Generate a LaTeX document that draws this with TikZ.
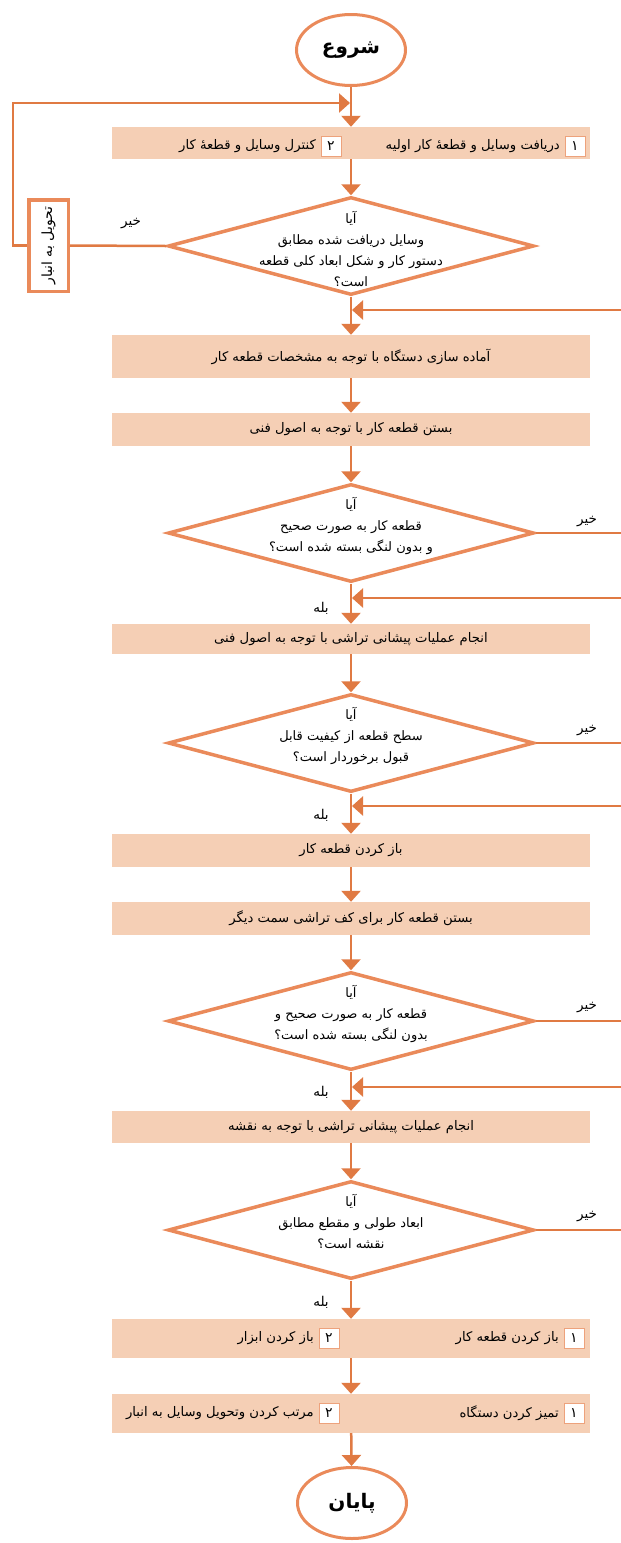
\documentclass[tikz,border=0pt]{standalone}
\usepackage{fontspec}
\usetikzlibrary{shapes.geometric,arrows.meta}
\TeXXeTstate=1
\newfontfamily\arabicfont[Script=Arabic]{DejaVu Sans}
\newcommand\fa[1]{{\arabicfont\beginR #1\endR}}
\definecolor{ln}{HTML}{E07A43}
\definecolor{sh}{HTML}{EA8A5A}
\definecolor{bx}{HTML}{F5CFB5}
\definecolor{nb}{HTML}{EDA27C}
\begin{document}
\begin{tikzpicture}[x=1pt,y=-1pt,
 conn/.style={draw=ln, line width=2.5pt},
 arr/.style={conn, -{Triangle[width=19pt,length=11pt]}},
 term/.style={ellipse, draw=sh, line width=3pt, minimum width=109pt, minimum height=71pt, inner sep=0pt, font=\fontsize{20}{24}\selectfont\bfseries},
 stepbox/.style={fill=bx, minimum width=478pt, inner sep=0pt, font=\fontsize{13.2}{16}\selectfont},
 dec/.style={diamond, draw=sh, line width=3.5pt, minimum width=366pt, minimum height=98pt, inner sep=0pt},
 dectext/.style={align=center, font=\fontsize{13}{21}\selectfont, inner sep=0pt},
 numbox/.style={draw=nb, line width=1pt, fill=white, minimum size=20pt, inner sep=0pt, font=\fontsize{14}{15}\selectfont},
 lbl/.style={font=\fontsize{13.5}{15}\selectfont, inner sep=0pt},
 rtext/.style={anchor=east, inner sep=0pt, font=\fontsize{13.2}{16}\selectfont},
]
\useasboundingbox (0,0) rectangle (621,1543);

% start
\node[term] (start) at (351,50) {\fa{شروع}};

% box 1
\node[stepbox, minimum height=32pt] (b1) at (351,143) {};
\node[numbox] (n11) at (575,146) {\fa{۱}};
\node[rtext] (t11) at (560,146) {\fa{دریافت وسایل و قطعهٔ کار اولیه}};
\node[numbox] (n12) at (331,146) {\fa{۲}};
\node[rtext] (t12) at (316,146) {\fa{کنترل وسایل و قطعهٔ کار}};

% decision 1
\node[dec] (d1) at (351,246) {};
\node[dectext] (d1t) at (351,249) {\fa{آیا}\\\fa{وسایل دریافت شده مطابق}\\\fa{دستور کار و شکل ابعاد کلی قطعه}\\\fa{است؟}};

% tahvil
\node[draw=sh, line width=3.5pt, fill=white, minimum width=39.5pt, minimum height=91.5pt, inner sep=0pt] (tahvil) at (48.5,245.5) {};
\node[rotate=90, inner sep=0pt, font=\fontsize{14}{16}\selectfont] (tahvilt) at (tahvil) {\fa{تحویل به انبار}};
\node[lbl] (no1) at (131,224) {\fa{خیر}};

% boxes
\node[stepbox, minimum height=43pt] (b2) at (351,356.5) {\fa{آماده سازی دستگاه با توجه به مشخصات قطعه کار}};
\node[stepbox, minimum height=33pt] (b3) at (351,429.5) {\fa{بستن قطعه کار با توجه به اصول فنی}};

\node[dec] (d2) at (351,533) {};
\node[dectext] (d2t) at (351,526) {\fa{آیا}\\\fa{قطعه کار به صورت صحیح}\\\fa{و بدون لنگی بسته شده است؟}};
\node[lbl] (no2) at (587,522) {\fa{خیر}};
\node[lbl] (yes2) at (321,608) {\fa{بله}};

\node[stepbox, minimum height=30pt] (b4) at (351,639) {\fa{انجام عملیات پیشانی تراشی با توجه به اصول فنی}};

\node[dec] (d3) at (351,743) {};
\node[dectext] (d3t) at (351,736) {\fa{آیا}\\\fa{سطح قطعه از کیفیت قابل}\\\fa{قبول برخوردار است؟}};
\node[lbl] (no3) at (587,731) {\fa{خیر}};
\node[lbl] (yes3) at (321,815) {\fa{بله}};

\node[stepbox, minimum height=33pt] (b5) at (351,850.5) {\fa{باز کردن قطعه کار}};
\node[stepbox, minimum height=33pt] (b6) at (351,918.5) {\fa{بستن قطعه کار برای کف تراشی سمت دیگر}};

\node[dec] (d4) at (351,1021) {};
\node[dectext] (d4t) at (351,1014) {\fa{آیا}\\\fa{قطعه کار به صورت صحیح و}\\\fa{بدون لنگی بسته شده است؟}};
\node[lbl] (no4) at (587,1008) {\fa{خیر}};
\node[lbl] (yes4) at (321,1092) {\fa{بله}};

\node[stepbox, minimum height=32pt] (b7) at (351,1127) {\fa{انجام عملیات پیشانی تراشی با توجه به نقشه}};

\node[dec] (d5) at (351,1230) {};
\node[dectext] (d5t) at (351,1221) {\fa{آیا}\\\fa{ابعاد طولی و مقطع مطابق}\\\fa{نقشه است؟}};
\node[lbl] (no5) at (587,1217) {\fa{خیر}};
\node[lbl] (yes5) at (321,1302) {\fa{بله}};

% box 8
\node[stepbox, minimum height=39pt] (b8) at (351,1338.5) {};
\node[numbox] (n81) at (574,1338.5) {\fa{۱}};
\node[rtext] (t81) at (559,1338.5) {\fa{باز کردن قطعه کار}};
\node[numbox] (n82) at (329,1338.5) {\fa{۲}};
\node[rtext] (t82) at (314,1338.5) {\fa{باز کردن ابزار}};

% box 9
\node[stepbox, minimum height=39pt] (b9) at (351,1413.5) {};
\node[numbox] (n91) at (574,1413.5) {\fa{۱}};
\node[rtext] (t91) at (559,1413.5) {\fa{تمیز کردن دستگاه}};
\node[numbox] (n92) at (329,1413.5) {\fa{۲}};
\node[rtext] (t92) at (314,1413.5) {\fa{مرتب کردن وتحویل وسایل به انبار}};

\node[term] (end) at (352,1503) {\fa{پایان}};

% coordinates
\coordinate (j1) at (350,103);
\coordinate (cl) at (13,103);
\coordinate (r1) at (621,310);  \coordinate (r1e) at (352,310);
\coordinate (r2) at (621,598);  \coordinate (r2e) at (352,598);
\coordinate (r3) at (621,806);  \coordinate (r3e) at (352,806);
\coordinate (r4) at (621,1087); \coordinate (r4e) at (352,1087);
\coordinate (e2) at (621,533);
\coordinate (e3) at (621,743);
\coordinate (e4) at (621,1021);
\coordinate (e5) at (621,1230);

% connectors
\draw[arr] (start) -- (b1);
\draw[arr] (b1) -- (d1);
\draw[conn] (d1.west) -- (tahvil.east);
\draw[arr] (tahvil.west) -| (cl) -- (j1);
\draw[arr] (d1) -- (b2);
\draw[arr] (b2) -- (b3);
\draw[arr] (b3) -- (d2);
\draw[arr] (d2) -- (b4);
\draw[arr] (b4) -- (d3);
\draw[arr] (d3) -- (b5);
\draw[arr] (b5) -- (b6);
\draw[arr] (b6) -- (d4);
\draw[arr] (d4) -- (b7);
\draw[arr] (b7) -- (d5);
\draw[arr] (d5) -- (b8);
\draw[arr] (b8) -- (b9);
\draw[arr] (b9) -- (end);
\draw[arr] (r1) -- (r1e);
\draw[arr] (r2) -- (r2e);
\draw[arr] (r3) -- (r3e);
\draw[arr] (r4) -- (r4e);
\draw[conn] (d2.east) -- (e2);
\draw[conn] (d3.east) -- (e3);
\draw[conn] (d4.east) -- (e4);
\draw[conn] (d5.east) -- (e5);
\end{tikzpicture}
\end{document}
